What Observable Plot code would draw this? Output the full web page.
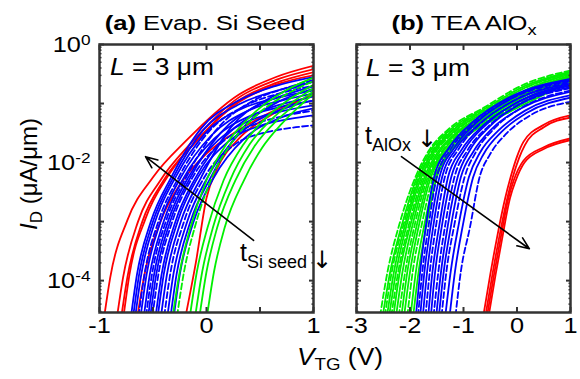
<!DOCTYPE html>
<html><head><meta charset="utf-8">
<script src="https://cdn.jsdelivr.net/npm/d3@7"></script>
<script src="https://cdn.jsdelivr.net/npm/@observablehq/plot@0.6"></script>
<style>
body{margin:0;background:#fff}
#fig{position:relative;width:580px;height:379px;overflow:hidden;font-family:"Liberation Sans",Arial,sans-serif;background:#fff}
#fig svg{position:absolute;top:0;overflow:visible}
</style></head><body><div id="fig"></div>
<script>
// ---- tick values ----
const xTicksA = [-1, -0.5, 0, 0.5, 1];
const xLabelsA = [-1, 0, 1];
const xTicksB = [-3, -2, -1, 0, 1];
const xLabelsB = [-3, -2, -1, 0, 1];
const yMajor = [1, 1e-1, 1e-2, 1e-3, 1e-4];
const yLabels = [1, 1e-2, 1e-4];
const yMin = 10 ** -4.54;

// ---- curves: [V_TG (V), log10 I_D (uA/um)] ----
// Panel (a) Evap. Si seed
const redA = [
  [[-0.955,-4.6],[-0.9,-3.95],[-0.74,-2.98],[-0.5,-2.25],[-0.19,-1.63],[0.3,-0.85],[0.65,-0.55],[1,-0.36]],
  [[-0.835,-4.6],[-0.78,-3.95],[-0.64,-3.0],[-0.43,-2.3],[-0.15,-1.68],[0.3,-0.9],[0.65,-0.6],[1,-0.42]],
  [[-0.795,-4.6],[-0.74,-3.95],[-0.6,-3.0],[-0.4,-2.3],[-0.1,-1.65],[0.3,-0.95],[0.65,-0.65],[1,-0.47]],
  [[-0.775,-4.6],[-0.72,-3.9],[-0.57,-2.95],[-0.35,-2.2],[-0.05,-1.55],[0.3,-0.98],[0.65,-0.68],[1,-0.52]],
  [[-0.645,-4.6],[-0.58,-3.9],[-0.43,-3.0],[-0.22,-2.3],[0,-1.85],[0.3,-1.45],[0.6,-1.15],[1,-0.85]],
  [[-0.195,-4.6],[-0.1,-3.7],[0.0,-2.6],[0.1,-2.1],[0.3,-1.6],[0.6,-1.2],[1,-0.85]]
];
const blueA = [
  [[-0.705,-4.6],[-0.65,-3.9],[-0.52,-3.0],[-0.33,-2.25],[-0.05,-1.42],[0.3,-0.95],[0.65,-0.7],[1,-0.55]],
  [[-0.685,-4.6],[-0.63,-3.9],[-0.5,-3.0],[-0.31,-2.25],[-0.03,-1.45],[0.32,-1.0],[0.66,-0.78],[1,-0.63]],
  [[-0.665,-4.6],[-0.61,-3.9],[-0.48,-3.0],[-0.29,-2.25],[-0.01,-1.5],[0.34,-1.08],[0.67,-0.9],[1,-0.78]],
  [[-0.615,-4.6],[-0.56,-3.9],[-0.43,-3.0],[-0.24,-2.25],[0.04,-1.55],[0.39,-1.12],[0.7,-0.95],[1,-0.83]],
  [[-0.585,-4.6],[-0.53,-3.9],[-0.4,-3.0],[-0.21,-2.25],[0.07,-1.6],[0.42,-1.2],[0.71,-1.05],[1,-0.95]],
  [[-0.545,-4.6],[-0.49,-3.9],[-0.36,-3.0],[-0.17,-2.25],[0.11,-1.62],[0.46,-1.25],[0.73,-1.12],[1,-1.03]],
  [[-0.525,-4.6],[-0.47,-3.9],[-0.34,-3.0],[-0.15,-2.25],[0.13,-1.5],[0.48,-1.03],[0.74,-0.85],[1,-0.71]],
  [[-0.475,-4.6],[-0.42,-3.9],[-0.29,-3.0],[-0.1,-2.25],[0.18,-1.55],[0.53,-1.12],[0.77,-0.98],[1,-0.88]],
  [[-0.455,-4.6],[-0.4,-3.9],[-0.27,-3.0],[-0.08,-2.25],[0.2,-1.65],[0.55,-1.35],[0.78,-1.26],[1,-1.2]],
  [[-0.425,-4.6],[-0.37,-3.9],[-0.24,-3.0],[-0.05,-2.25],[0.23,-1.4],[0.58,-0.92],[0.79,-0.75],[1,-0.63]],
  [[-0.365,-4.6],[-0.31,-3.9],[-0.18,-3.0],[0.01,-2.25],[0.29,-1.55],[0.63,-1.15],[0.82,-1.03],[1,-0.95]],
  [[-0.335,-4.6],[-0.28,-3.9],[-0.15,-3.0],[0.04,-2.25],[0.32,-1.45],[0.66,-0.98],[0.83,-0.85],[1,-0.75]],
  [[-0.305,-4.6],[-0.25,-3.9],[-0.12,-3.0],[0.07,-2.25],[0.35,-1.6],[0.68,-1.25],[0.84,-1.15],[1,-1.08]]
];
const blueADashed = [
  [[-0.635,-4.6],[-0.58,-3.9],[-0.45,-3.0],[-0.26,-2.25],[0.02,-1.48],[0.37,-1.03],[0.68,-0.83],[1,-0.7]],
  [[-0.565,-4.6],[-0.51,-3.9],[-0.38,-3.0],[-0.19,-2.25],[0.09,-1.45],[0.44,-0.95],[0.72,-0.75],[1,-0.6]],
  [[-0.505,-4.6],[-0.45,-3.9],[-0.32,-3.0],[-0.13,-2.25],[0.15,-1.65],[0.5,-1.32],[0.75,-1.2],[1,-1.12]],
  [[-0.395,-4.6],[-0.34,-3.9],[-0.21,-3.0],[-0.02,-2.25],[0.26,-1.7],[0.6,-1.47],[0.8,-1.41],[1,-1.37]]
];
const greenA = [
  [[-0.315,-4.6],[-0.25,-3.85],[-0.15,-3.1],[0.0,-2.3],[0.2,-1.65],[0.45,-1.15],[0.72,-0.8],[1,-0.56]],
  [[-0.155,-4.6],[-0.09,-3.85],[0.01,-3.1],[0.16,-2.3],[0.35,-1.68],[0.57,-1.22],[0.78,-0.92],[1,-0.68]],
  [[-0.105,-4.6],[-0.04,-3.85],[0.06,-3.1],[0.22,-2.3],[0.4,-1.7],[0.6,-1.28],[0.8,-0.98],[1,-0.74]],
  [[-0.065,-4.6],[0.0,-3.85],[0.1,-3.1],[0.27,-2.3],[0.45,-1.72],[0.65,-1.3],[0.83,-1.02],[1,-0.79]],
  [[0.005,-4.6],[0.07,-3.85],[0.17,-3.1],[0.35,-2.3],[0.52,-1.75],[0.7,-1.35],[0.86,-1.06],[1,-0.83]]
];
const greenADashed = [
  [[-0.275,-4.6],[-0.21,-3.85],[-0.11,-3.1],[0.04,-2.3],[0.24,-1.65],[0.48,-1.18],[0.74,-0.85],[1,-0.62]]
];

// Panel (b) TEA AlOx
const greenB = [
  [[-2.51,-4.6],[-2.37,-3.85],[-2.15,-3.05],[-1.87,-2.25],[-1.62,-1.8],[-1.27,-1.46],[-0.57,-1.07],[0.13,-0.71],[1,-0.46]],
  [[-2.43,-4.6],[-2.3,-3.85],[-2.09,-3.05],[-1.82,-2.25],[-1.57,-1.81],[-1.22,-1.47],[-0.52,-1.08],[0.18,-0.72],[1,-0.47]],
  [[-2.39,-4.6],[-2.26,-3.85],[-2.06,-3.05],[-1.79,-2.25],[-1.54,-1.81],[-1.19,-1.48],[-0.49,-1.1],[0.21,-0.75],[1,-0.5]],
  [[-2.31,-4.6],[-2.19,-3.85],[-1.99,-3.05],[-1.73,-2.25],[-1.48,-1.82],[-1.13,-1.49],[-0.43,-1.11],[0.27,-0.76],[1,-0.52]],
  [[-2.26,-4.6],[-2.14,-3.85],[-1.95,-3.05],[-1.7,-2.25],[-1.45,-1.82],[-1.1,-1.49],[-0.4,-1.12],[0.3,-0.77],[1,-0.53]],
  [[-2.16,-4.6],[-2.05,-3.85],[-1.87,-3.05],[-1.64,-2.25],[-1.39,-1.82],[-1.04,-1.5],[-0.34,-1.12],[0.36,-0.78],[1,-0.54]],
  [[-2.11,-4.6],[-2.0,-3.85],[-1.83,-3.05],[-1.61,-2.25],[-1.36,-1.83],[-1.01,-1.51],[-0.31,-1.14],[0.39,-0.81],[1,-0.57]],
  [[-1.99,-4.6],[-1.89,-3.85],[-1.73,-3.05],[-1.53,-2.25],[-1.28,-1.84],[-0.93,-1.52],[-0.23,-1.16],[0.47,-0.83],[1,-0.6]],
  [[-1.94,-4.6],[-1.84,-3.85],[-1.69,-3.05],[-1.5,-2.25],[-1.25,-1.84],[-0.9,-1.53],[-0.2,-1.17],[0.5,-0.85],[1,-0.62]]
];
const greenBDashed = [
  [[-2.56,-4.6],[-2.42,-3.85],[-2.2,-3.05],[-1.9,-2.25],[-1.65,-1.8],[-1.3,-1.45],[-0.6,-1.06],[0.1,-0.69],[1,-0.44]],
  [[-2.47,-4.6],[-2.34,-3.85],[-2.12,-3.05],[-1.84,-2.25],[-1.59,-1.81],[-1.24,-1.47],[-0.54,-1.08],[0.16,-0.73],[1,-0.48]],
  [[-2.35,-4.6],[-2.22,-3.85],[-2.02,-3.05],[-1.76,-2.25],[-1.51,-1.81],[-1.16,-1.48],[-0.46,-1.09],[0.24,-0.74],[1,-0.49]],
  [[-2.21,-4.6],[-2.09,-3.85],[-1.91,-3.05],[-1.67,-2.25],[-1.42,-1.83],[-1.07,-1.5],[-0.37,-1.13],[0.33,-0.79],[1,-0.55]],
  [[-2.05,-4.6],[-1.95,-3.85],[-1.78,-3.05],[-1.57,-2.25],[-1.32,-1.83],[-0.97,-1.51],[-0.27,-1.15],[0.43,-0.82],[1,-0.58]]
];
const blueB = [
  [[-1.89,-4.6],[-1.81,-3.85],[-1.7,-3.05],[-1.55,-2.25],[-1.27,-1.75],[-0.81,-1.3],[-0.15,-0.9],[1,-0.58]],
  [[-1.81,-4.6],[-1.73,-3.85],[-1.61,-3.05],[-1.45,-2.25],[-1.18,-1.76],[-0.74,-1.31],[-0.1,-0.91],[1,-0.6]],
  [[-1.76,-4.6],[-1.68,-3.85],[-1.56,-3.05],[-1.4,-2.25],[-1.14,-1.77],[-0.7,-1.34],[-0.08,-0.96],[1,-0.66]],
  [[-1.66,-4.6],[-1.58,-3.85],[-1.45,-3.05],[-1.29,-2.25],[-1.04,-1.79],[-0.63,-1.37],[-0.03,-1.0],[1,-0.7]],
  [[-1.61,-4.6],[-1.53,-3.85],[-1.4,-3.05],[-1.23,-2.25],[-0.98,-1.78],[-0.58,-1.36],[0.0,-0.98],[1,-0.68]],
  [[-1.51,-4.6],[-1.42,-3.85],[-1.29,-3.05],[-1.11,-2.25],[-0.88,-1.79],[-0.5,-1.38],[0.05,-1.01],[1,-0.72]],
  [[-1.46,-4.6],[-1.37,-3.85],[-1.23,-3.05],[-1.05,-2.25],[-0.82,-1.82],[-0.46,-1.42],[0.08,-1.08],[1,-0.8]],
  [[-1.34,-4.6],[-1.24,-3.85],[-1.09,-3.05],[-0.9,-2.25],[-0.69,-1.83],[-0.35,-1.46],[0.15,-1.12],[1,-0.86]],
  [[-1.26,-4.6],[-1.16,-3.85],[-1.01,-3.05],[-0.82,-2.25],[-0.62,-1.85],[-0.29,-1.48],[0.18,-1.16],[1,-0.9]]
];
const blueBDashed = [
  [[-1.85,-4.6],[-1.77,-3.85],[-1.65,-3.05],[-1.5,-2.25],[-1.23,-1.76],[-0.78,-1.32],[-0.13,-0.93],[1,-0.62]],
  [[-1.71,-4.6],[-1.63,-3.85],[-1.51,-3.05],[-1.35,-2.25],[-1.09,-1.77],[-0.67,-1.33],[-0.06,-0.95],[1,-0.64]],
  [[-1.56,-4.6],[-1.47,-3.85],[-1.34,-3.05],[-1.17,-2.25],[-0.93,-1.8],[-0.54,-1.39],[0.02,-1.03],[1,-0.74]],
  [[-1.41,-4.6],[-1.32,-3.85],[-1.17,-3.05],[-0.98,-2.25],[-0.76,-1.81],[-0.41,-1.41],[0.11,-1.06],[1,-0.78]],
  [[-1.15,-4.6],[-1.05,-3.85],[-0.88,-3.1],[-0.7,-2.25],[-0.51,-1.87],[-0.21,-1.52],[0.23,-1.21],[1,-0.97]]
];
const redB = [
  [[-0.63,-4.6],[-0.5,-3.9],[-0.38,-3.3],[-0.22,-2.6],[-0.12,-2.25],[0.0,-1.9],[0.12,-1.65],[0.5,-1.36],[1,-1.2]],
  [[-0.59,-4.6],[-0.46,-3.9],[-0.34,-3.3],[-0.18,-2.6],[-0.08,-2.25],[0.04,-1.92],[0.15,-1.7],[0.5,-1.4],[1,-1.24]],
  [[-0.56,-4.6],[-0.43,-3.9],[-0.31,-3.3],[-0.16,-2.6],[-0.06,-2.3],[0.12,-1.97],[0.5,-1.74],[1,-1.59]],
  [[-0.53,-4.6],[-0.4,-3.9],[-0.28,-3.3],[-0.13,-2.6],[-0.03,-2.32],[0.14,-2.0],[0.5,-1.77],[1,-1.62]]
];

// annotation arrows: [V, log10 I]
const arrowA = [{x1: 0.44, y1: -3.32, x2: -0.57, y2: -1.90}];
const arrowB = [{x1: -2.16, y1: -1.90, x2: 0.23, y2: -3.46}];

const RED = "#ff0000", BLUE = "#0000ff", GREEN = "#00f000";
const yMinor = [-5, -4, -3, -2, -1].flatMap(e => [2,3,4,5,6,7,8,9].map(m => m * 10 ** e)).filter(v => v >= yMin && v <= 1);

const toRows = (curves, key) => curves.flatMap((pts, k) => pts.map(([v, lg]) => ({id: key + k, v, i: 10 ** lg})));
const lineMark = (curves, key, color, dashed) => Plot.line(toRows(curves, key), {
  x: "v", y: "i", z: "id", stroke: color, strokeWidth: 1.8,
  strokeDasharray: dashed ? "6,3" : null, curve: "monotone-x", clip: true
});
const TICK = "#333";

function panel({xDomain, xTicks, xLabels, width, marginLeft, marginRight, curves, arrow, showY}) {
  return Plot.plot({
    width, height: 379, marginLeft, marginRight, marginTop: 44, marginBottom: 67,
    style: {fontFamily: "'Liberation Sans', Arial, sans-serif", fontSize: "22px", color: "#000", background: "transparent", overflow: "visible"},
    x: {domain: xDomain, label: null},
    y: {type: "log", domain: [yMin, 1], label: null},
    marks: [
      ...curves,
      Plot.arrow(arrow, {x1: "x1", y1: d => 10 ** d.y1, x2: "x2", y2: d => 10 ** d.y2, stroke: "#000", strokeWidth: 1.6, headLength: 12, headAngle: 45}),
      Plot.axisX(xTicks, {anchor: "bottom", tickSize: -5, fill: "none", stroke: TICK, strokeWidth: 2, label: null}),
      Plot.axisX(xTicks, {anchor: "top", tickSize: -5, fill: "none", stroke: TICK, strokeWidth: 2, label: null}),
      Plot.axisX(xLabels, {anchor: "bottom", tickSize: 0, tickPadding: 5, tickFormat: d => String(d), label: null}),
      Plot.axisY(yMajor, {anchor: "left", tickSize: -5, fill: "none", stroke: TICK, strokeWidth: 2, label: null}),
      Plot.axisY(yMajor, {anchor: "right", tickSize: -5, fill: "none", stroke: TICK, strokeWidth: 2, label: null}),
      Plot.axisY(yMinor, {anchor: "left", tickSize: -2.5, fill: "none", stroke: TICK, strokeWidth: 1.5, label: null}),
      Plot.axisY(yMinor, {anchor: "right", tickSize: -2.5, fill: "none", stroke: TICK, strokeWidth: 1.5, label: null}),
      showY ? Plot.axisY(yLabels, {anchor: "left", tickSize: 0, tickPadding: 9, tickFormat: d => String(Math.round(Math.log10(d))), label: null}) : null,
      Plot.frame({stroke: "#333", strokeWidth: 2.5})
    ]
  });
}

const fig = document.getElementById("fig");
const pa = panel({
  xDomain: [-1, 1], xTicks: xTicksA, xLabels: xLabelsA, width: 320, marginLeft: 99, marginRight: 7, showY: true,
  arrow: arrowA,
  curves: [lineMark(redA, "ra", RED), lineMark(blueA, "ba", BLUE), lineMark(blueADashed, "bad", BLUE, true),
           lineMark(greenA, "ga", GREEN), lineMark(greenADashed, "gad", GREEN, true)]
});
const pb = panel({
  xDomain: [-3, 1], xTicks: xTicksB, xLabels: xLabelsB, width: 260, marginLeft: 36, marginRight: 10, showY: false,
  arrow: arrowB,
  curves: [lineMark(greenB, "gb", GREEN), lineMark(greenBDashed, "gbd", GREEN, true),
           lineMark(blueB, "bb", BLUE), lineMark(blueBDashed, "bbd", BLUE, true), lineMark(redB, "rb", RED)]
});
pa.style.left = "0px"; pb.style.left = "320px";
fig.appendChild(pa); fig.appendChild(pb);

// superscript exponents and horizontal stretch of tick labels
const NS = "http://www.w3.org/2000/svg";
for (const svg of [pa, pb]) {
  svg.querySelectorAll('[aria-label="y-axis tick label"] text').forEach(t => {
    const e = t.textContent; t.textContent = "10";
    const s = document.createElementNS(NS, "tspan");
    s.setAttribute("dy", "-0.45em"); s.setAttribute("font-size", "15"); s.textContent = e;
    t.appendChild(s);
  });
  svg.querySelectorAll('[aria-label="y-axis tick label"] text, [aria-label="x-axis tick label"] text').forEach(t => {
    t.setAttribute("transform", (t.getAttribute("transform") || "") + " scale(1.15,1)");
  });
}

// overlay texts
const ov = document.createElementNS(NS, "svg");
ov.setAttribute("width", 580); ov.setAttribute("height", 379);
ov.style.left = "0px";
ov.setAttribute("font-family", "'Liberation Sans', Arial, sans-serif");
ov.innerHTML = `
<text transform="translate(205,30) scale(1.22,1)" text-anchor="middle" font-size="21"><tspan font-weight="bold">(a)</tspan> Evap. Si Seed</text>
<text transform="translate(464,30) scale(1.22,1)" text-anchor="middle" font-size="21"><tspan font-weight="bold">(b)</tspan> TEA AlO<tspan font-size="15" dy="5">x</tspan></text>
<text transform="translate(110,75) scale(1.1,1)" font-size="24"><tspan font-style="italic">L</tspan> = 3 μm</text>
<text transform="translate(366,76) scale(1.1,1)" font-size="24"><tspan font-style="italic">L</tspan> = 3 μm</text>
<text transform="translate(37,174) rotate(-90)" text-anchor="middle" font-size="24"><tspan font-style="italic">I</tspan><tspan font-size="17" dy="5">D</tspan><tspan dy="-5"> (μA/μm)</tspan></text>
<text transform="translate(340,365) scale(1.1,1)" text-anchor="middle" font-size="24"><tspan font-style="italic">V</tspan><tspan font-size="17" dy="5">TG</tspan><tspan dy="-5"> (V)</tspan></text>
<text x="240" y="261" font-size="25">t<tspan font-size="18" dy="7">Si seed</tspan></text>
<text x="322" y="268" text-anchor="middle" font-size="24" fill="#000" font-family="'DejaVu Sans', sans-serif">&#x2193;&#xFE0E;</text>
<text x="365" y="144" font-size="25">t<tspan font-size="18" dy="7">AlOx</tspan></text>
<text x="427" y="147" text-anchor="middle" font-size="24" fill="#000" font-family="'DejaVu Sans', sans-serif">&#x2193;&#xFE0E;</text>
`;
fig.appendChild(ov);
</script></body></html>
